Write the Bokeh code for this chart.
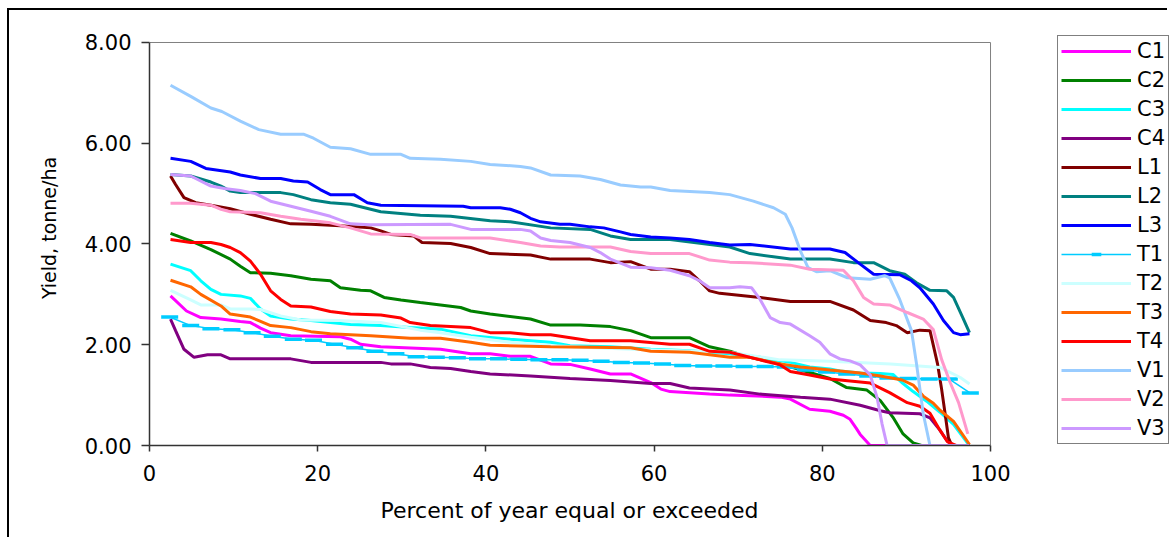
from bokeh.plotting import figure
from bokeh.models import Legend, LegendItem, FixedTicker, NumeralTickFormatter, Range1d, Title
from bokeh.embed import file_html
from bokeh.resources import INLINE

# ---- data ----
names = ["C1", "C2", "C3", "C4", "L1", "L2", "L3", "T1", "T2", "T3", "T4", "V1", "V2", "V3"]
colors = ["#FF00FF", "#008000", "#00FFFF", "#800080", "#800000", "#008080", "#0000FF",
          "#00CCFF", "#CCFFFF", "#FF6600", "#FF0000", "#99CCFF", "#FF99CC", "#CC99FF"]

c1_x = [2.5, 4.4, 6.1, 8.5, 10.8, 12.0, 13.2, 14.4, 16.8, 22.7, 23.9, 25.1, 27.5, 34.6, 38.2, 40.5, 42.9, 45.3, 47.7, 50.0, 52.4, 54.8, 57.2, 59.6, 60.8, 61.9, 66.6, 69.0, 71.4, 75.0, 76.2, 78.5, 80.9, 82.5, 83.3, 84.0, 84.5, 85.7, 97.5]
c1_y = [2.97, 2.67, 2.54, 2.51, 2.46, 2.44, 2.33, 2.24, 2.18, 2.16, 2.11, 2.01, 1.96, 1.91, 1.82, 1.82, 1.77, 1.77, 1.62, 1.61, 1.52, 1.42, 1.42, 1.25, 1.12, 1.07, 1.02, 1.00, 0.99, 0.96, 0.92, 0.72, 0.68, 0.60, 0.52, 0.35, 0.22, 0.0, 0.0]

c2_x = [2.5, 4.9, 7.3, 9.6, 10.8, 12.0, 14.4, 16.8, 19.2, 21.5, 22.7, 25.1, 26.3, 27.9, 29.9, 32.2, 34.6, 37.0, 38.2, 40.5, 45.3, 47.7, 51.2, 54.8, 57.2, 59.6, 64.2, 66.6, 69.0, 71.4, 75.0, 78.5, 80.9, 82.9, 85.3, 86.9, 88.4, 89.6, 90.8, 91.8, 97.5]
c2_y = [4.21, 4.06, 3.89, 3.70, 3.56, 3.43, 3.42, 3.37, 3.30, 3.27, 3.13, 3.08, 3.07, 2.94, 2.89, 2.84, 2.79, 2.74, 2.67, 2.61, 2.51, 2.39, 2.39, 2.36, 2.28, 2.14, 2.14, 1.96, 1.87, 1.75, 1.62, 1.45, 1.33, 1.15, 1.10, 0.89, 0.56, 0.23, 0.05, 0.0, 0.0]

c3_x = [2.5, 4.9, 6.1, 7.3, 8.5, 10.8, 12.0, 13.2, 14.4, 16.8, 19.2, 21.5, 23.9, 27.5, 31.0, 34.6, 38.2, 42.9, 47.7, 50.0, 54.8, 59.6, 64.2, 69.0, 72.6, 76.2, 78.5, 80.9, 82.1, 84.5, 86.9, 88.4, 89.6, 90.8, 92.4, 94.0, 95.6, 97.4]
c3_y = [3.60, 3.47, 3.27, 3.10, 3.00, 2.97, 2.92, 2.71, 2.57, 2.51, 2.48, 2.44, 2.40, 2.38, 2.34, 2.31, 2.18, 2.11, 2.05, 1.98, 1.96, 1.91, 1.88, 1.82, 1.75, 1.65, 1.56, 1.52, 1.48, 1.44, 1.43, 1.41, 1.23, 1.07, 0.88, 0.66, 0.42, 0.02]

c4_x = [2.5, 3.1, 4.1, 5.3, 6.9, 8.5, 9.6, 16.8, 19.2, 27.5, 28.7, 31.0, 33.4, 35.8, 38.2, 40.5, 45.3, 50.0, 54.8, 59.6, 61.9, 64.2, 69.0, 72.6, 77.4, 80.9, 84.5, 86.9, 88.0, 91.6, 92.8, 94.0, 94.8, 95.6, 97.5]
c4_y = [2.51, 2.28, 1.91, 1.75, 1.80, 1.80, 1.72, 1.72, 1.65, 1.65, 1.62, 1.62, 1.55, 1.53, 1.47, 1.42, 1.38, 1.33, 1.29, 1.23, 1.23, 1.14, 1.10, 1.02, 0.96, 0.92, 0.80, 0.69, 0.65, 0.63, 0.55, 0.30, 0.10, 0.0, 0.0]

l1_x = [2.5, 3.1, 4.1, 5.5, 7.3, 9.6, 12.0, 14.4, 16.8, 19.2, 22.7, 26.3, 27.5, 28.7, 31.4, 32.4, 35.8, 38.2, 40.5, 45.3, 47.7, 52.4, 54.8, 57.2, 59.6, 61.9, 64.2, 65.4, 66.6, 67.8, 72.6, 76.2, 80.9, 83.7, 85.7, 87.6, 88.8, 90.1, 91.6, 92.8, 93.7, 94.2, 94.6, 95.0, 95.4, 97.5]
l1_y = [5.35, 5.18, 4.92, 4.82, 4.77, 4.70, 4.59, 4.49, 4.40, 4.39, 4.36, 4.32, 4.26, 4.19, 4.16, 4.03, 4.01, 3.93, 3.81, 3.78, 3.70, 3.70, 3.63, 3.65, 3.50, 3.50, 3.45, 3.27, 3.07, 3.02, 2.94, 2.86, 2.86, 2.69, 2.48, 2.44, 2.38, 2.24, 2.29, 2.28, 1.62, 1.10, 0.63, 0.15, 0.0, 0.0]

l2_x = [2.5, 4.9, 7.3, 8.5, 9.6, 10.8, 15.6, 17.1, 19.2, 21.5, 23.9, 27.5, 32.2, 35.8, 40.5, 42.9, 47.7, 52.4, 54.8, 57.2, 61.9, 69.0, 71.4, 76.2, 80.9, 83.7, 86.1, 88.0, 89.8, 91.2, 92.8, 94.8, 95.6, 96.7, 97.5]
l2_y = [5.38, 5.35, 5.23, 5.15, 5.05, 5.02, 5.02, 4.98, 4.88, 4.82, 4.79, 4.64, 4.57, 4.55, 4.46, 4.44, 4.32, 4.29, 4.16, 4.09, 4.09, 3.94, 3.81, 3.70, 3.70, 3.63, 3.63, 3.47, 3.40, 3.23, 3.08, 3.07, 2.94, 2.54, 2.24]

l3_x = [2.5, 4.9, 6.7, 9.6, 10.8, 13.2, 15.6, 17.1, 18.8, 20.3, 21.5, 24.3, 25.9, 27.5, 37.3, 38.2, 41.7, 42.9, 44.1, 45.3, 46.5, 48.8, 50.0, 52.4, 54.0, 56.0, 57.2, 59.6, 61.9, 64.2, 66.6, 69.0, 71.4, 76.2, 80.9, 82.7, 84.5, 86.1, 89.2, 90.6, 91.6, 93.2, 94.4, 95.6, 96.4, 97.5]
l3_y = [5.70, 5.64, 5.50, 5.43, 5.37, 5.30, 5.30, 5.25, 5.23, 5.08, 4.98, 4.98, 4.82, 4.77, 4.75, 4.72, 4.72, 4.69, 4.62, 4.51, 4.44, 4.39, 4.39, 4.34, 4.32, 4.24, 4.19, 4.14, 4.12, 4.09, 4.03, 3.98, 3.99, 3.90, 3.90, 3.83, 3.60, 3.40, 3.39, 3.27, 3.13, 2.81, 2.48, 2.24, 2.20, 2.22]

t1_x = [2.4, 4.9, 7.3, 9.8, 12.2, 14.6, 17.1, 19.5, 22.0, 24.4, 26.8, 29.3, 31.7, 34.1, 36.6, 39.0, 41.5, 43.9, 46.3, 48.8, 51.2, 53.7, 56.1, 58.5, 61.0, 63.4, 65.9, 68.3, 70.7, 73.2, 75.6, 78.0, 80.5, 82.9, 85.4, 87.8, 90.2, 92.7, 95.1, 97.6]
t1_y = [2.55, 2.38, 2.32, 2.30, 2.24, 2.17, 2.11, 2.09, 2.01, 1.94, 1.87, 1.82, 1.76, 1.75, 1.74, 1.72, 1.72, 1.71, 1.70, 1.70, 1.69, 1.67, 1.65, 1.64, 1.62, 1.59, 1.58, 1.58, 1.57, 1.57, 1.56, 1.50, 1.46, 1.42, 1.38, 1.34, 1.33, 1.32, 1.32, 1.04]

t2_x = [2.5, 4.9, 6.1, 8.5, 9.6, 12.0, 13.2, 15.6, 18.0, 22.7, 27.5, 32.2, 34.6, 38.2, 42.9, 47.7, 57.2, 69.0, 75.0, 80.9, 88.1, 94.0, 96.4, 97.5]
t2_y = [3.08, 2.89, 2.79, 2.79, 2.71, 2.71, 2.70, 2.57, 2.49, 2.48, 2.44, 2.29, 2.24, 2.15, 2.05, 1.98, 1.91, 1.85, 1.70, 1.67, 1.62, 1.55, 1.35, 1.22]

t3_x = [2.5, 4.9, 6.1, 8.5, 9.6, 12.0, 14.4, 16.8, 19.2, 21.5, 26.3, 31.0, 34.6, 38.2, 40.5, 47.7, 57.2, 59.6, 64.2, 69.0, 71.4, 75.0, 77.4, 80.9, 84.5, 86.9, 89.5, 90.8, 92.0, 93.2, 94.0, 95.6, 97.5]
t3_y = [3.28, 3.15, 3.00, 2.77, 2.61, 2.55, 2.38, 2.34, 2.26, 2.22, 2.18, 2.13, 2.13, 2.05, 1.99, 1.96, 1.94, 1.87, 1.85, 1.75, 1.75, 1.62, 1.56, 1.50, 1.44, 1.38, 1.30, 1.20, 0.98, 0.84, 0.70, 0.48, 0.02]

t4_x = [2.5, 4.9, 7.3, 8.5, 9.6, 10.8, 12.0, 13.2, 14.4, 15.6, 16.8, 19.2, 21.5, 23.9, 27.5, 29.9, 31.0, 33.4, 38.2, 40.5, 42.9, 45.3, 47.7, 52.4, 57.2, 61.9, 64.2, 66.6, 69.0, 70.2, 72.6, 75.0, 76.2, 78.5, 80.9, 83.3, 85.7, 88.0, 90.1, 91.6, 92.8, 94.0, 94.9, 95.9, 97.5]
t4_y = [4.09, 4.03, 4.03, 3.99, 3.93, 3.83, 3.66, 3.40, 3.07, 2.90, 2.77, 2.75, 2.66, 2.61, 2.59, 2.53, 2.44, 2.38, 2.34, 2.24, 2.24, 2.20, 2.20, 2.08, 2.08, 2.01, 2.01, 1.87, 1.85, 1.80, 1.70, 1.60, 1.47, 1.40, 1.32, 1.28, 1.24, 1.05, 0.85, 0.78, 0.64, 0.30, 0.07, 0.0, 0.0]

v1_x = [2.5, 4.9, 7.3, 8.6, 10.8, 13.0, 15.6, 18.3, 19.5, 21.5, 23.9, 26.3, 29.9, 31.0, 34.6, 38.2, 40.5, 44.1, 45.3, 47.7, 51.2, 53.6, 56.0, 58.4, 59.6, 61.9, 66.6, 69.0, 71.8, 74.2, 75.6, 76.4, 77.4, 78.3, 79.3, 80.9, 83.0, 85.7, 87.4, 88.0, 89.2, 90.6, 91.2, 92.0, 92.8, 97.3]
v1_y = [7.15, 6.93, 6.70, 6.63, 6.44, 6.27, 6.18, 6.18, 6.10, 5.92, 5.89, 5.78, 5.78, 5.70, 5.68, 5.64, 5.58, 5.54, 5.51, 5.37, 5.35, 5.28, 5.17, 5.13, 5.13, 5.06, 5.02, 4.98, 4.85, 4.72, 4.59, 4.32, 3.86, 3.53, 3.45, 3.47, 3.33, 3.30, 3.37, 3.33, 2.90, 2.28, 1.62, 0.63, 0.0, 0.0]

v2_x = [2.5, 4.9, 7.3, 8.5, 9.6, 13.2, 15.6, 18.0, 21.5, 23.9, 26.3, 31.0, 32.2, 40.5, 44.1, 46.5, 48.8, 54.8, 57.2, 59.6, 64.2, 66.6, 69.0, 71.4, 76.2, 78.5, 82.5, 83.7, 84.9, 86.1, 88.0, 90.1, 92.0, 93.2, 94.2, 95.2, 96.2, 97.3]
v2_y = [4.81, 4.81, 4.77, 4.69, 4.64, 4.62, 4.55, 4.49, 4.42, 4.32, 4.20, 4.19, 4.12, 4.12, 4.03, 3.96, 3.94, 3.94, 3.85, 3.81, 3.81, 3.68, 3.64, 3.63, 3.58, 3.50, 3.48, 3.27, 2.94, 2.81, 2.79, 2.64, 2.51, 2.30, 1.70, 1.25, 0.85, 0.23]

v3_x = [2.5, 4.9, 7.3, 8.9, 10.8, 12.6, 14.4, 16.8, 19.2, 21.5, 23.9, 26.3, 35.8, 38.2, 44.1, 45.3, 46.5, 47.7, 50.0, 52.4, 53.6, 54.8, 57.2, 59.6, 61.9, 64.2, 65.4, 66.6, 69.0, 70.2, 71.6, 72.6, 73.8, 75.0, 76.2, 78.5, 79.7, 80.9, 82.1, 83.3, 84.5, 85.7, 86.5, 87.1, 87.7, 97.5]
v3_y = [5.38, 5.35, 5.15, 5.10, 5.06, 5.00, 4.85, 4.75, 4.65, 4.55, 4.40, 4.38, 4.39, 4.29, 4.29, 4.26, 4.12, 4.07, 4.03, 3.93, 3.83, 3.70, 3.54, 3.53, 3.48, 3.37, 3.27, 3.13, 3.13, 3.15, 3.13, 2.90, 2.54, 2.44, 2.41, 2.18, 2.05, 1.82, 1.72, 1.68, 1.60, 1.40, 0.96, 0.43, 0.0, 0.0]

xs = [c1_x, c2_x, c3_x, c4_x, l1_x, l2_x, l3_x, t1_x, t2_x, t3_x, t4_x, v1_x, v2_x, v3_x]
ys = [c1_y, c2_y, c3_y, c4_y, l1_y, l2_y, l3_y, t1_y, t2_y, t3_y, t4_y, v1_y, v2_y, v3_y]

x_ticks = [0, 20, 40, 60, 80, 100]
y_ticks = [0, 2, 4, 6, 8]
x_title = "Percent of year equal or exceeded"
y_title = "Yield, tonne/ha"

FONT = "DejaVu Sans"

# frame extends to the right/top edges so the legend is not clipped;
# the visible plot-area border is drawn at x = 100 and y = 8
p = figure(width=1160, height=529, output_backend="svg", toolbar_location=None,
           x_range=Range1d(0, 121.28), y_range=Range1d(0, 8.635),
           min_border_left=140, min_border_right=0, min_border_top=0, min_border_bottom=94,
           styles={"margin-left": "7px", "margin-top": "8px",
                   "border-left": "2px solid black", "border-top": "2px solid black"})

p.background_fill_color = "white"
p.border_fill_color = "white"
p.outline_line_color = None
p.grid.visible = False

p.segment(x0=[0, 100], y0=[8, 0], x1=[100, 100], y1=[8, 8], line_color="#808080", line_width=1)

for ax in (p.xaxis[0], p.yaxis[0]):
    ax.axis_line_color = "#333333"
    ax.axis_line_width = 1.5
    ax.major_tick_line_color = "#333333"
    ax.major_tick_line_width = 1.5
    ax.major_tick_in = 0
    ax.minor_tick_line_color = None
    ax.major_label_text_font = FONT
    ax.major_label_text_color = "black"
    ax.axis_label_text_font = FONT
    ax.axis_label_text_font_style = "normal"
    ax.axis_label_text_color = "black"

p.xaxis.bounds = (0, 100)
p.yaxis.bounds = (0, 8)
p.xaxis.ticker = FixedTicker(ticks=x_ticks)
p.yaxis.ticker = FixedTicker(ticks=y_ticks)
p.yaxis.formatter = NumeralTickFormatter(format="0.00")
p.xaxis.major_tick_out = 6
p.yaxis.major_tick_out = 8
p.xaxis.major_label_text_font_size = "21px"
p.yaxis.major_label_text_font_size = "21px"
p.xaxis.major_label_standoff = 13
p.yaxis.major_label_standoff = 10
p.yaxis.axis_label = y_title
p.yaxis.axis_label_text_font_size = "19px"
p.yaxis.axis_label_standoff = 22

# x-axis title centred under the 0-100 span of the axis
xt = Title(text=x_title, align="left", offset=231, text_font=FONT, text_font_size="22px",
           text_font_style="normal", text_color="black", standoff=25)
p.add_layout(xt, "below")

items = []
for name, col, x, y in zip(names, colors, xs, ys):
    if name == "T1":
        r1 = p.line(x, y, line_color=col, line_width=1.5)
        r2 = p.scatter(x, y, marker="dash", size=17, line_color=col, line_width=3.5)
        items.append(LegendItem(label=name, renderers=[r1, r2]))
    else:
        r = p.line(x, y, line_color=col, line_width=3)
        items.append(LegendItem(label=name, renderers=[r]))

legend = Legend(items=items, location=(908, 1), orientation="vertical")
legend.label_text_font = FONT
legend.label_text_font_size = "21px"
legend.label_text_color = "black"
legend.glyph_width = 70
legend.glyph_height = 24
legend.label_height = 24
legend.label_standoff = 6
legend.spacing = 5
legend.padding = 3
legend.margin = 0
legend.border_line_color = "black"
legend.border_line_width = 1
legend.background_fill_color = "white"
legend.background_fill_alpha = 1
p.add_layout(legend, "center")

open("out.html", "w").write(file_html(p, INLINE))
